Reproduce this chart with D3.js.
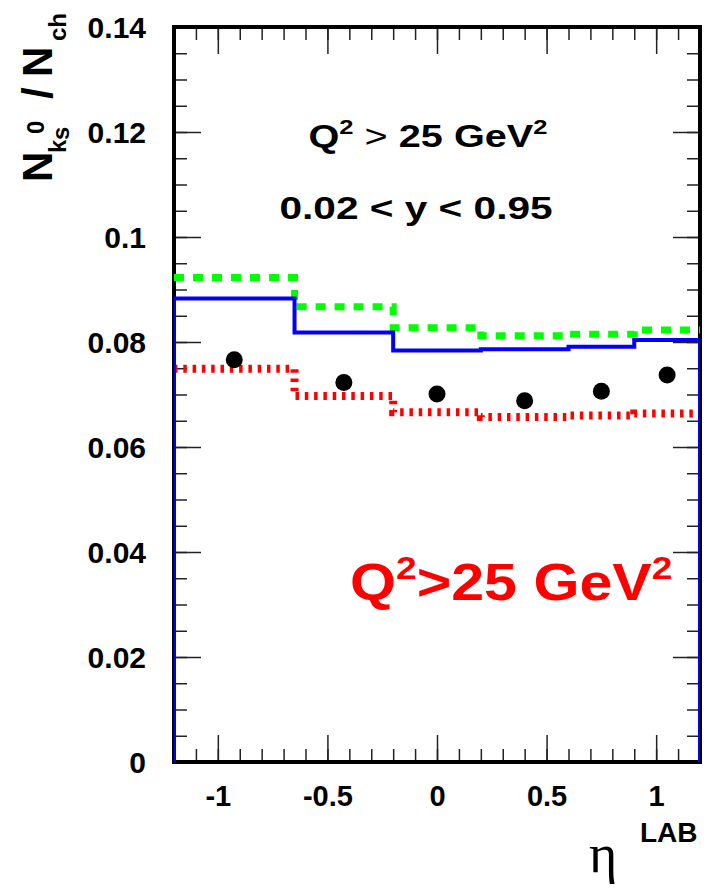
<!DOCTYPE html>
<html>
<head>
<meta charset="utf-8">
<script src="https://cdn.jsdelivr.net/npm/d3@7"></script>
<style>
  body { margin: 0; background: #fff; }
  svg { display: block; }
  text { font-family: "Liberation Sans", Arial, sans-serif; font-weight: bold; }
</style>
</head>
<body>
<div id="chart"></div>
<script>
// bin edges in eta(LAB) and the three model histograms
var binEdges = [-1.2, -0.65, -0.2, 0.2, 0.6, 0.9, 1.2];
var blueVals = [0.0883, 0.0818, 0.0784, 0.0786, 0.0791, 0.0804];
var greenVals = [0.0923, 0.0867, 0.0827, 0.0812, 0.0815, 0.0823];
var redVals = [0.0749, 0.0697, 0.0666, 0.0657, 0.0660, 0.0664];

// data points
var pointEta = [-0.925, -0.425, 0.0, 0.4, 0.75, 1.05];
var pointVals = [0.0766, 0.0723, 0.0701, 0.0688, 0.0706, 0.0737];

// tick labels
var xMajorTicks = [-1, -0.5, 0, 0.5, 1];
var yMajorTicks = [0, 0.02, 0.04, 0.06, 0.08, 0.1, 0.12, 0.14];

var svgWidth = 708;
var svgHeight = 890;

var margin = {
  top: 27,
  right: 8,
  bottom: 128,
  left: 174
};

var width = svgWidth - margin.left - margin.right;
var height = svgHeight - margin.top - margin.bottom;

var svg = d3.select("#chart")
  .append("svg")
  .attr("width", svgWidth)
  .attr("height", svgHeight);

var chartGroup = svg.append("g")
  .attr("transform", `translate(${margin.left}, ${margin.top})`);

var xScale = d3.scaleLinear().domain([-1.2, 1.2]).range([0, width]);
var yScale = d3.scaleLinear().domain([0, 0.14]).range([height, 0]);

var xMinor = d3.range(-11, 12).map(function(d) { return d / 10; });
var yMinor = d3.range(0, 29).map(function(d) { return d * 0.005; });

// minor ticks (inside the frame, no labels)
function minorAxis(axis, ticks) {
  return axis.tickValues(ticks).tickSize(-13).tickFormat("");
}
chartGroup.append("g")
  .attr("transform", `translate(0, ${height})`)
  .call(minorAxis(d3.axisBottom(xScale), xMinor));
chartGroup.append("g")
  .call(minorAxis(d3.axisTop(xScale), xMinor));
chartGroup.append("g")
  .call(minorAxis(d3.axisLeft(yScale), yMinor));
chartGroup.append("g")
  .attr("transform", `translate(${width}, 0)`)
  .call(minorAxis(d3.axisRight(yScale), yMinor));

// major ticks
var fmt = function(d) { return String(+d.toFixed(2)); };
var xAxis = chartGroup.append("g")
  .attr("transform", `translate(0, ${height})`)
  .call(d3.axisBottom(xScale).tickValues(xMajorTicks).tickSize(-27).tickPadding(22).tickFormat(fmt));
chartGroup.append("g")
  .call(d3.axisTop(xScale).tickValues(xMajorTicks).tickSize(-27).tickFormat(""));
var yAxis = chartGroup.append("g")
  .call(d3.axisLeft(yScale).tickValues(yMajorTicks).tickSize(-27).tickPadding(28).tickFormat(fmt));
chartGroup.append("g")
  .attr("transform", `translate(${width}, 0)`)
  .call(d3.axisRight(yScale).tickValues(yMajorTicks).tickSize(-27).tickFormat(""));

chartGroup.selectAll(".domain").remove();
chartGroup.selectAll(".tick line").attr("stroke", "#222").attr("stroke-width", 1.5);

xAxis.selectAll("text")
  .attr("dy", null)
  .attr("y", 44)
  .attr("fill", "#000")
  .style("font-size", "29px")
  .style("font-family", "Liberation Sans, Arial, sans-serif")
  .style("font-weight", "bold");
yAxis.selectAll("text")
  .attr("dy", "0.36em")
  .attr("fill", "#000")
  .style("font-size", "30px")
  .style("font-family", "Liberation Sans, Arial, sans-serif")
  .style("font-weight", "bold");

// frame
chartGroup.append("rect")
  .attr("x", 0).attr("y", 0)
  .attr("width", width).attr("height", height)
  .attr("fill", "none")
  .attr("stroke", "#000")
  .attr("stroke-width", 4);

// clip for histograms
svg.append("defs").append("clipPath").attr("id", "plotClip")
  .append("rect").attr("x", 0).attr("y", 0).attr("width", width).attr("height", height);

function stepPoints(vals, closeEnds) {
  var pts = [];
  if (closeEnds) pts.push([binEdges[0], 0]);
  vals.forEach(function(v, i) {
    pts.push([binEdges[i], v]);
    pts.push([binEdges[i + 1], v]);
  });
  if (closeEnds) pts.push([binEdges[binEdges.length - 1], 0]);
  return pts;
}

var line = d3.line()
  .x(function(d) { return xScale(d[0]); })
  .y(function(d) { return yScale(d[1]); });

var histGroup = chartGroup.append("g").attr("clip-path", "url(#plotClip)");

histGroup.append("path")
  .attr("d", line(stepPoints(redVals, false)))
  .attr("fill", "none")
  .attr("stroke", "#ff0000")
  .attr("stroke-width", 8)
  .attr("stroke-dasharray", "3.5 5.8");

histGroup.append("path")
  .attr("d", line(stepPoints(greenVals, false)))
  .attr("fill", "none")
  .attr("stroke", "#00ff00")
  .attr("stroke-width", 7)
  .attr("stroke-dasharray", "10 9");

histGroup.append("path")
  .attr("d", line(stepPoints(blueVals, true)))
  .attr("fill", "none")
  .attr("stroke", "#0000ff")
  .attr("stroke-width", 4);

// data points
chartGroup.selectAll("circle")
  .data(pointEta)
  .enter()
  .append("circle")
  .attr("cx", function(d) { return xScale(d); })
  .attr("cy", function(d, i) { return yScale(pointVals[i]); })
  .attr("r", 8.5)
  .attr("fill", "#000");

// annotations (the original canvas text is horizontally wide)
var ann1 = svg.append("text")
  .attr("transform", "translate(428, 147) scale(1.28, 1)")
  .attr("text-anchor", "middle")
  .style("font-size", "31px");
ann1.append("tspan").text("Q");
ann1.append("tspan").attr("dy", -13).style("font-size", "20px").text("2");
ann1.append("tspan").attr("dy", 13).style("font-weight", "normal").text(" > ");
ann1.append("tspan").text("25 GeV");
ann1.append("tspan").attr("dy", -13).style("font-size", "20px").text("2");

svg.append("text")
  .attr("transform", "translate(416, 219) scale(1.31, 1)")
  .attr("text-anchor", "middle")
  .style("font-size", "31px")
  .text("0.02 < y < 0.95");

var ann2 = svg.append("text")
  .attr("transform", "translate(350, 600) scale(1.16, 1)")
  .attr("fill", "#ff0000")
  .style("font-size", "51px");
ann2.append("tspan").text("Q");
ann2.append("tspan").attr("dy", -21).style("font-size", "32px").text("2");
ann2.append("tspan").attr("dy", 21).text(">25 GeV");
ann2.append("tspan").attr("dy", -21).style("font-size", "32px").text("2");

// y axis title
var yTitle = svg.append("g").attr("transform", "translate(52, 182) rotate(-90)");
yTitle.append("text").attr("x", 0).attr("y", 0).style("font-size", "42px").text("N");
yTitle.append("text").attr("x", 48).attr("y", -8).style("font-size", "24px").text("0");
yTitle.append("text").attr("x", 29).attr("y", 14).style("font-size", "24px").text("k");
yTitle.append("text").attr("x", 42).attr("y", 17).style("font-size", "24px").text("s");
yTitle.append("text").attr("x", 83).attr("y", 0).style("font-size", "42px").text("/");
yTitle.append("text").attr("x", 105).attr("y", 0).style("font-size", "42px").text("N");
yTitle.append("text").attr("x", 141).attr("y", 14).style("font-size", "24px").text("ch");

// x axis title
var xTitle = svg.append("g");
xTitle.append("text")
  .attr("x", 589).attr("y", 872)
  .style("font-family", "Liberation Serif, serif")
  .style("font-weight", "normal")
  .style("font-size", "54px")
  .text("η");
xTitle.append("text")
  .attr("x", 640).attr("y", 842)
  .style("font-size", "28px")
  .text("LAB");
</script>
</body>
</html>
